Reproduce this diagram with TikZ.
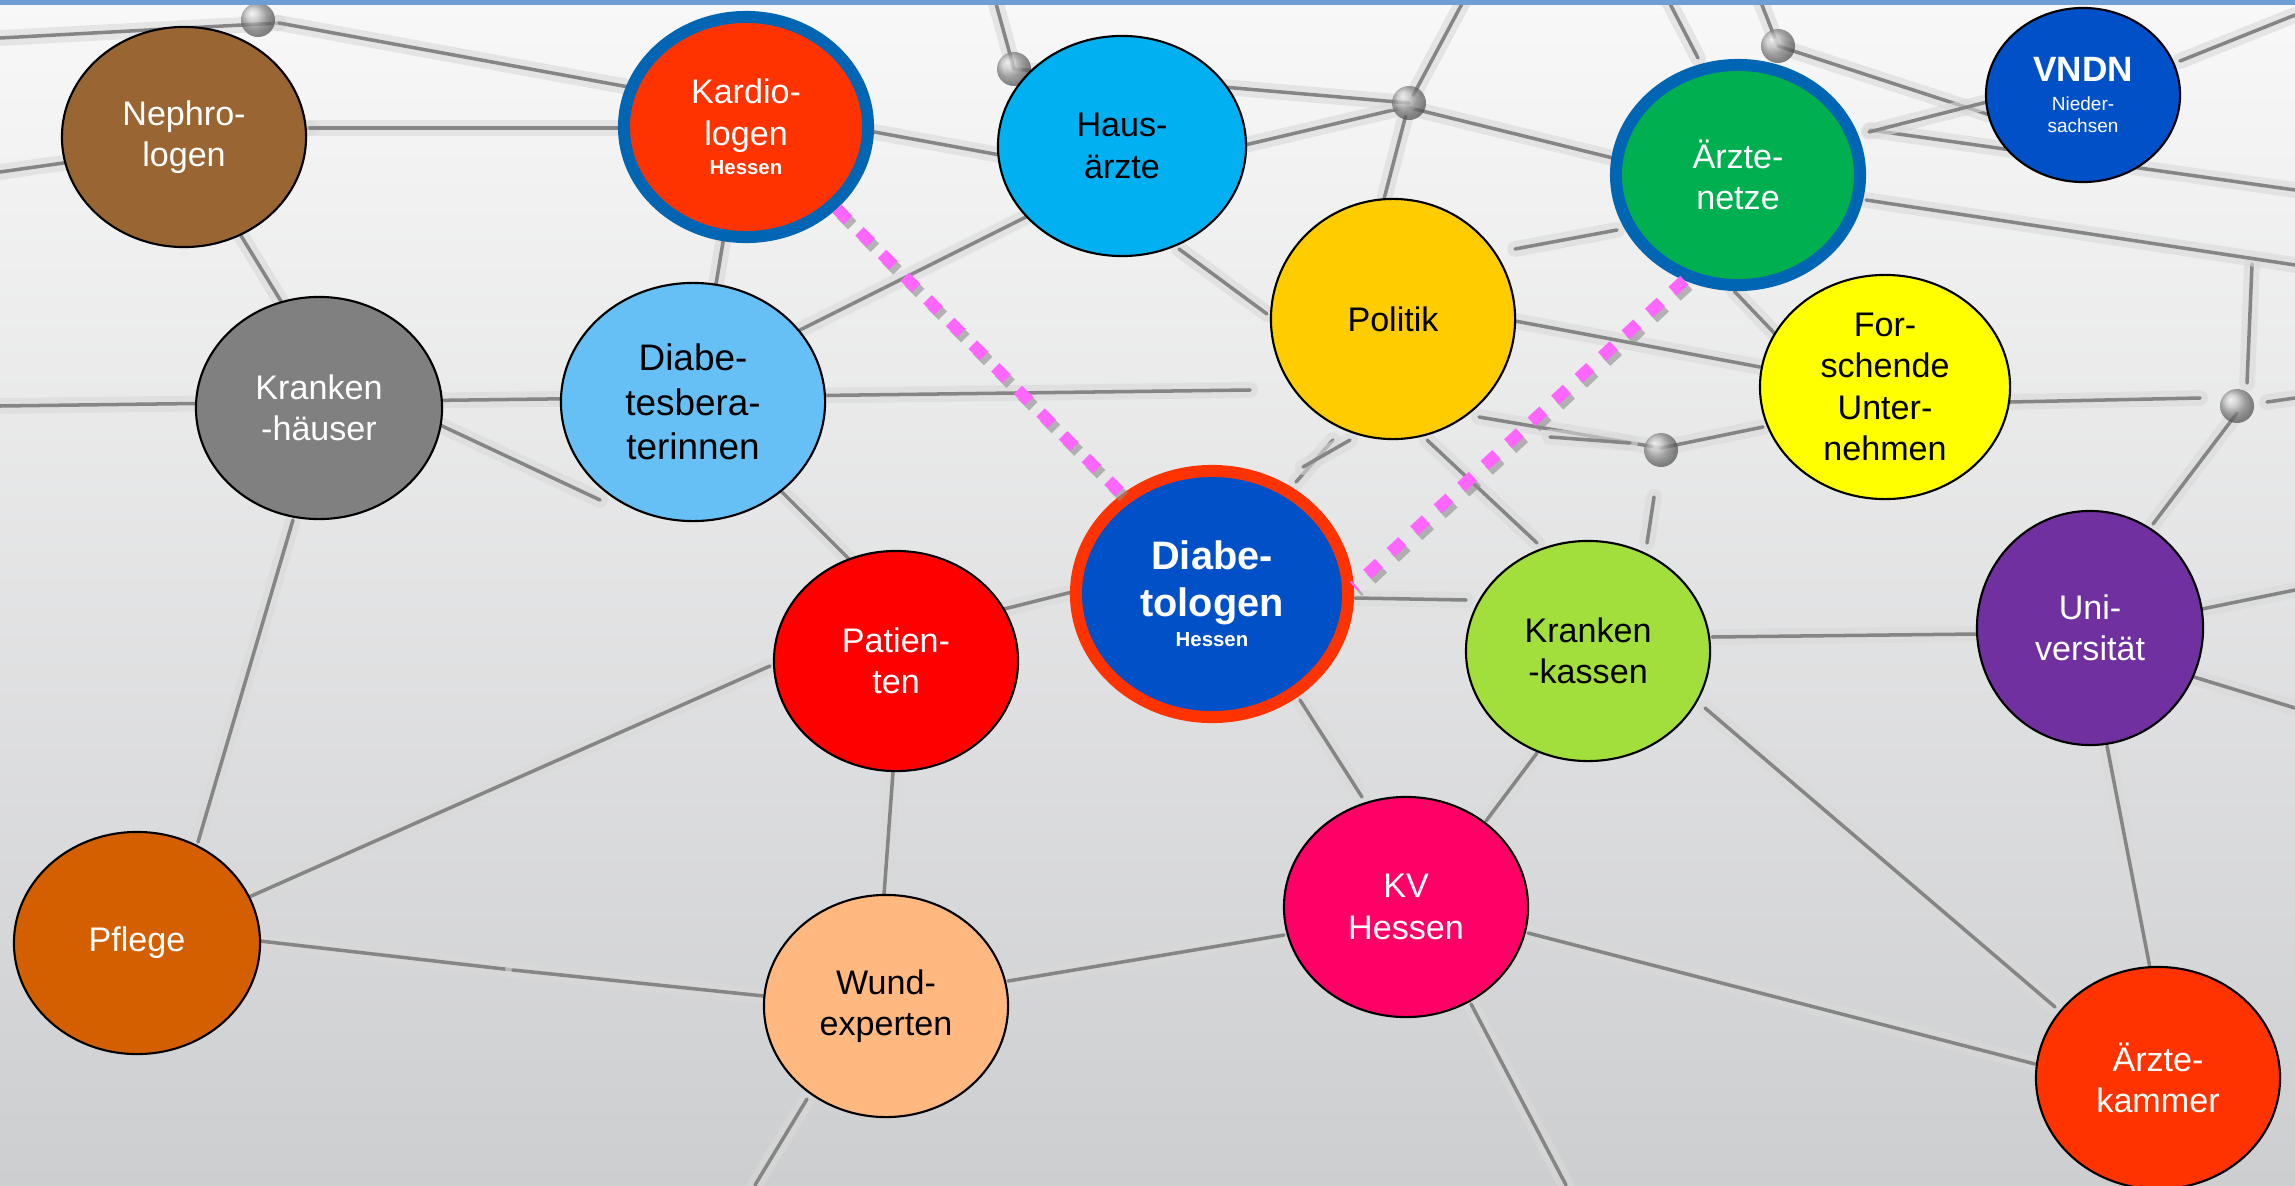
\documentclass[tikz,border=0pt]{standalone}
\usepackage{fontspec}
\setmainfont{Liberation Sans}
\usetikzlibrary{shapes.geometric}

\definecolor{bgtop}{HTML}{F8F8F8}
\definecolor{bgmid}{HTML}{EDEDEE}
\definecolor{bgbottom}{HTML}{CDCED0}
\definecolor{topbar}{HTML}{6E9ED6}
\definecolor{ringblue}{HTML}{0066B3}
\definecolor{ringred}{HTML}{FF3300}
\definecolor{linkpink}{HTML}{FF66FF}
\definecolor{nephrobrown}{HTML}{996633}
\definecolor{kardiored}{HTML}{FF3300}
\definecolor{hauscyan}{HTML}{00B0F0}
\definecolor{politikgold}{HTML}{FFCC00}
\definecolor{netzgreen}{HTML}{00B050}
\definecolor{vndnblue}{HTML}{0050C8}
\definecolor{forschyellow}{HTML}{FFFF00}
\definecolor{hausgrey}{HTML}{808080}
\definecolor{beraterblue}{HTML}{66BFF5}
\definecolor{patientred}{HTML}{FF0000}
\definecolor{kassengreen}{HTML}{A2DE3C}
\definecolor{unipurple}{HTML}{7030A0}
\definecolor{pflegeorange}{HTML}{D35F00}
\definecolor{wundpeach}{HTML}{FFB880}
\definecolor{kvpink}{HTML}{FF0066}
\definecolor{kammerred}{HTML}{FF3300}

\tikzset{
  bubble/.style={ellipse, draw=black, line width=0.6pt, inner sep=0pt, align=center,
    font=\fontsize{9.7}{11.8}\selectfont},
  ringed/.style={ellipse, draw=#1, line width=0.12cm, inner sep=0pt, align=center,
    font=\fontsize{9.7}{11.8}\selectfont},
  bsize/.style 2 args={minimum width=#1cm, minimum height=#2cm},
  netline/.style={draw=black!48, line width=1pt, line cap=round},
  netglow/.style={draw=black!15, line width=4.5pt, line cap=round, opacity=0.6},
  pinkdots/.style={draw=linkpink, line width=0.12cm, dash pattern=on 0.16cm off 0.16cm},
  pinkshadow/.style={draw=black!45, line width=0.12cm, dash pattern=on 0.16cm off 0.16cm, opacity=0.6}
}

\begin{document}
\begin{tikzpicture}[x=0.01cm, y=-0.01cm]
\useasboundingbox (0,0) rectangle (2295,1185);
\clip (0,0) rectangle (2295,1185);

% background photo: grey network
\shade[top color=bgtop, middle color=bgmid, bottom color=bgbottom] (0,0) rectangle (2295,1185);
\foreach \xa/\ya/\xb/\yb in {
  0/38/279/23, 279/23/1000/155, 0/172/310/128, 310/128/625/128, 140/70/290/316,
  293/520/198/842, 0/406/1250/390, 715/290/725/230, 790/335/1060/200,
  770/480/860/570, 440/425/600/500, 249/897/770/666, 260/941/513/970,
  513/970/764/996, 893/772/884/895, 807/1099/755/1185, 1008/981/1284/935,
  1471/1004/1566/1185, 1528/933/2035/1064, 1486/821/1537/753, 1362/797/1300/700,
  1705/708/2055/1007, 1712/637/1977/634, 2107/746/2150/968, 2202/609/2295/590,
  2194/677/2295/708, 2153/524/2237/413, 2247/383/2252/264, 1866/200/2295/265,
  2267/402/2295/398, 2010/402/2200/398, 1870/130/2295/190, 2180/61/2295/15,
  1464/0/1409/103, 1409/103/1384/199, 1245/145/1406/107, 1406/107/1625/161,
  1778/46/1760/0, 1778/46/1990/115, 1333/440/1296/482, 1654/497/1647/543,
  1479/417/1661/448, 1661/448/1763/427, 1550/437/1630/443, 1734/291/1778/337,
  1179/249/1267/314, 1515/249/1617/230, 1515/321/1760/367, 1355/598/1466/600,
  1303/467/1350/440, 1000/610/1080/590, 1014/69/1409/103, 995/0/1014/69,
  1869/132/1987/102, 1668/0/1698/58, 1427/440/1537/543} {
  \draw[netglow] (\xa,\ya) -- (\xb,\yb);
  \draw[netline] (\xa,\ya) -- (\xb,\yb);
}
\foreach \x/\y in {258/20, 1014/69, 1409/103, 1778/46, 1661/450, 2237/406} {
  \shade[ball color=black!30, opacity=0.7] (\x,\y) circle (0.17cm);
}
\fill[topbar] (0,0) rectangle (2295,5);

% partners
\node[bubble, bsize={2.44}{2.20}, fill=nephrobrown, text=white] (nephro) at (184,137) {Nephro-\\logen};
\node[ringed=ringblue, bsize={2.44}{2.20}, fill=kardiored, text=white] (kardio) at (746,127)
  {Kardio-\\logen\\[-3.3pt]{\fontsize{5.8}{6}\selectfont\bfseries Hessen}};
\node[bubble, bsize={2.48}{2.20}, fill=hauscyan] (haus) at (1122,146) {Haus-\\ärzte};
\node[bubble, bsize={2.44}{2.40}, fill=politikgold] (politik) at (1393,319) {Politik};
\node[ringed=ringblue, bsize={2.44}{2.20}, fill=netzgreen, text=white] (netze) at (1738,175) {Ärzte-\\netze};
\node[bubble, bsize={1.94}{1.74}, fill=vndnblue, text=white, font=\fontsize{10}{12}\selectfont] (vndn) at (2083,95)
  {\bfseries VNDN\\[-3.8pt]{\fontsize{5.4}{6}\selectfont Nieder-}\\[-5.7pt]{\fontsize{5.4}{6}\selectfont sachsen}};
\node[bubble, bsize={2.50}{2.24}, fill=forschyellow] (forschende) at (1885,387) {For-\\schende\\Unter-\\nehmen};
\node[bubble, bsize={2.46}{2.22}, fill=hausgrey, text=white] (kliniken) at (319,408) {Kranken\\-häuser};
\node[bubble, bsize={2.64}{2.38}, fill=beraterblue, font=\fontsize{10.5}{12.7}\selectfont] (berater) at (693,402)
  {Diabe-\\tesbera-\\terinnen};
\node[ringed=ringred, bsize={2.72}{2.46}, fill=vndnblue, text=white, font=\fontsize{11.3}{13.4}\selectfont\bfseries] (diabeto) at (1212,594)
  {Diabe-\\tologen\\[-4.9pt]{\fontsize{5.8}{6}\selectfont Hessen}};
\node[bubble, bsize={2.44}{2.20}, fill=patientred, text=white] (patienten) at (896,661) {Patien-\\ten};
\node[bubble, bsize={2.44}{2.20}, fill=kassengreen] (kassen) at (1588,651) {Kranken\\-kassen};
\node[bubble, bsize={2.26}{2.34}, fill=unipurple, text=white] (uni) at (2090,628) {Uni-\\versität};
\node[bubble, bsize={2.46}{2.22}, fill=pflegeorange, text=white] (pflege) at (137,943) {Pflege};
\node[bubble, bsize={2.44}{2.22}, fill=wundpeach] (wund) at (886,1006) {Wund-\\experten};
\node[bubble, bsize={2.44}{2.20}, fill=kvpink, text=white] (kv) at (1406,907) {KV\\Hessen};
\node[bubble, bsize={2.44}{2.22}, fill=kammerred, text=white] (kammer) at (2158,1078) {Ärzte-\\kammer};

% links to the Diabetologen
\draw[pinkshadow] ([shift={(4,5)}]kardio.318) -- ([shift={(4,5)}]diabeto.132);
\draw[pinkshadow] ([shift={(4,5)}]netze.243) -- ([shift={(4,5)}]diabeto.3);
\draw[pinkdots] (kardio.318) -- (diabeto.132);
\draw[pinkdots] (netze.243) -- (diabeto.3);
\end{tikzpicture}
\end{document}
